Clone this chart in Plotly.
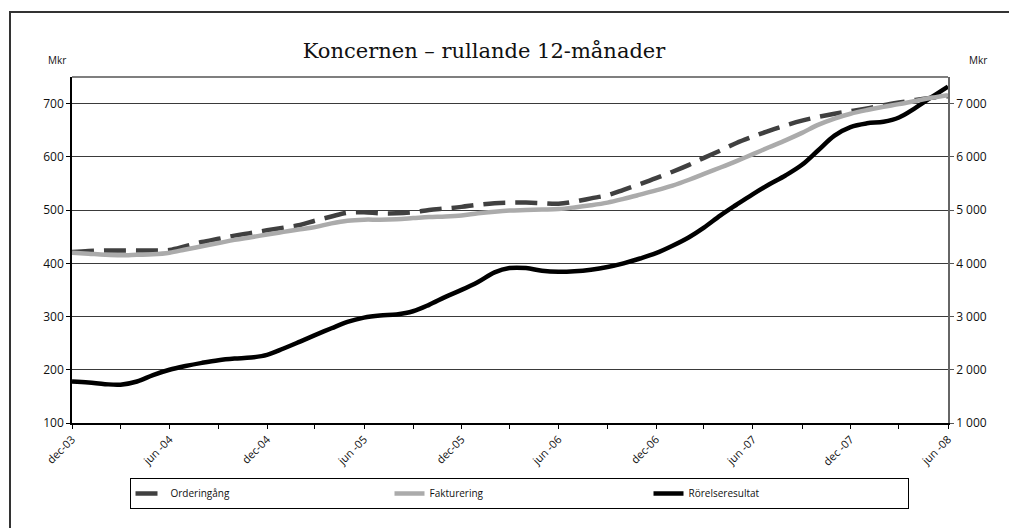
import pandas as pd
import plotly.graph_objects as go

# Monthly dates dec-03 .. jun-08
months = pd.date_range("2003-12-01", periods=55, freq="MS")

# Orderingång (Mkr, right axis)
orderingang = [4210, 4230, 4240, 4240, 4240, 4240, 4250, 4320, 4400, 4460,
               4520, 4570, 4620, 4670, 4720, 4800, 4880, 4950, 4960, 4940,
               4940, 4960, 5000, 5030, 5060, 5100, 5130, 5140, 5140, 5130,
               5120, 5160, 5220, 5280, 5380, 5490, 5600, 5720, 5850, 5980,
               6120, 6260, 6380, 6490, 6590, 6680, 6750, 6810, 6860, 6910,
               6970, 7020, 7070, 7110, 7140]

# Fakturering (Mkr, right axis)
fakturering = [4200, 4180, 4160, 4150, 4160, 4170, 4200, 4260, 4320, 4380,
               4440, 4490, 4540, 4590, 4640, 4680, 4750, 4800, 4820, 4820,
               4830, 4850, 4870, 4880, 4900, 4940, 4970, 4990, 5000, 5010,
               5020, 5050, 5090, 5140, 5210, 5290, 5370, 5460, 5570, 5680,
               5800, 5920, 6050, 6180, 6310, 6450, 6600, 6720, 6810, 6880,
               6940, 6990, 7050, 7110, 7160]

# Rörelseresultat (Mkr, left axis)
rorelseresultat = [178, 176, 173, 172, 178, 190, 200, 207, 213, 218,
                   221, 223, 228, 240, 253, 265, 278, 290, 298, 302,
                   304, 310, 322, 337, 350, 365, 383, 391, 391, 386,
                   384, 385, 388, 393, 400, 409, 419, 433, 449, 467,
                   490, 510, 530, 548, 565, 585, 612, 640, 656, 663,
                   666, 674, 692, 712, 732]

x_tick_dates = ["2003-12-01", "2004-06-01", "2004-12-01", "2005-06-01", "2005-12-01",
                "2006-06-01", "2006-12-01", "2007-06-01", "2007-12-01", "2008-06-01"]
x_tick_labels = ["dec-03", "jun -04", "dec-04", "jun -05", "dec-05",
                 "jun -06", "dec-06", "jun -07", "dec -07", "jun -08"]

left_ticks = [100, 200, 300, 400, 500, 600, 700]
right_ticks = [1000, 2000, 3000, 4000, 5000, 6000, 7000]
right_labels = ["1 000", "2 000", "3 000", "4 000", "5 000", "6 000", "7 000"]

TICKFONT = dict(family="Open Sans", size=12, color="#111")

fig = go.Figure()
fig.add_trace(go.Scatter(x=months, y=orderingang, name="Orderingång", yaxis="y2",
                         mode="lines", line=dict(color="#404040", width=4.5, dash="22px,10px",
                                                 shape="spline")))
fig.add_trace(go.Scatter(x=months, y=fakturering, name="Fakturering", yaxis="y2",
                         mode="lines", line=dict(color="#ababab", width=4.5, shape="spline")))
fig.add_trace(go.Scatter(x=months, y=rorelseresultat, name="Rörelseresultat", yaxis="y",
                         mode="lines", line=dict(color="#000000", width=4.5, shape="spline")))

# outer frame: left and top edges (others fall outside the picture)
fx0 = (10 - 72) / 876
fy1 = (423 - 12) / 346
frame_path = f"M {fx0},{(423 - 600) / 346} L {fx0},{fy1} L {(1100 - 72) / 876},{fy1}"

fig.update_layout(
    width=1009, height=528,
    margin=dict(l=72, r=61, t=77, b=105, autoexpand=False),
    paper_bgcolor="white", plot_bgcolor="white",
    title=dict(text="Koncernen – rullande 12-månader", x=484 / 1009, xanchor="center",
               y=1 - 51 / 528, yanchor="middle",
               font=dict(family="DejaVu Serif", size=21, color="#111")),
    xaxis=dict(type="date", range=["2003-12-01", "2008-06-01"], automargin=False,
               tickmode="array", tickvals=x_tick_dates, ticktext=x_tick_labels,
               tickangle=-45, tickfont=dict(family="Open Sans", size=11, color="#111"),
               ticks="outside", ticklen=4, tickcolor="#000",
               minor=dict(tickmode="linear", tick0="2003-12-01", dtick="M3",
                          ticks="outside", ticklen=4, tickcolor="#000", showgrid=False),
               showgrid=False, showline=True, linecolor="#000", linewidth=1.5,
               zeroline=False),
    yaxis=dict(range=[100, 750], tickmode="array", tickvals=left_ticks, automargin=False,
               tickfont=TICKFONT, ticks="outside", ticklen=4, tickcolor="#000",
               showgrid=True, gridcolor="#3a3a3a", gridwidth=1,
               showline=True, linecolor="#000", linewidth=1.5, zeroline=False),
    yaxis2=dict(range=[1000, 7500], overlaying="y", side="right", automargin=False,
                tickmode="array", tickvals=right_ticks, ticktext=right_labels,
                tickfont=TICKFONT, ticks="outside", ticklen=4, tickcolor="#555",
                showgrid=False, showline=True, linecolor="#666", linewidth=1.5,
                zeroline=False),
    showlegend=True,
    legend=dict(orientation="h", x=(519 - 72) / 876, xanchor="center",
                y=(423 - 478) / 346, yanchor="top",
                bordercolor="#000", borderwidth=1, entrywidth=214,
                font=dict(family="Open Sans", size=10, color="#111"),
                traceorder="normal"),
    annotations=[
        dict(text="Mkr", xref="paper", yref="paper", x=(57 - 72) / 876, y=(423 - 60) / 346,
             showarrow=False, xanchor="center", yanchor="middle",
             font=dict(family="Open Sans", size=10, color="#111")),
        dict(text="Mkr", xref="paper", yref="paper", x=(978 - 72) / 876, y=(423 - 60) / 346,
             showarrow=False, xanchor="center", yanchor="middle",
             font=dict(family="Open Sans", size=10, color="#111")),
    ],
    shapes=[
        # top border of plot area
        dict(type="line", xref="paper", yref="paper", x0=0, x1=1, y0=1, y1=1,
             line=dict(color="#7f7f7f", width=2)),
        # outer frame
        dict(type="path", xref="paper", yref="paper", path=frame_path,
             line=dict(color="#333", width=2), layer="below"),
    ],
)

fig.write_html("out.html", config={"displayModeBar": False},
               post_script="document.body.style.margin='0';document.body.style.overflow='hidden';")
